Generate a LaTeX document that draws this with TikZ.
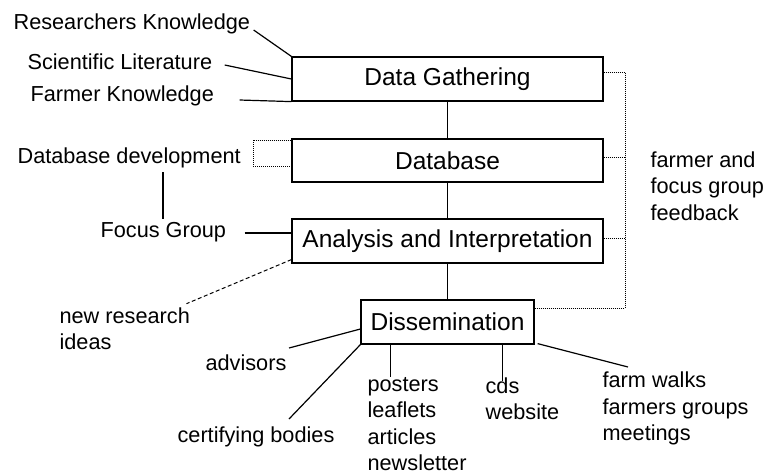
\documentclass[tikz,border=0pt]{standalone}
\usepackage{fontspec}
\setmainfont{Liberation Sans}
\usetikzlibrary{calc}

\begin{document}
\begin{tikzpicture}[x=1pt, y=-1pt, line width=1.2pt,
    stage/.style={draw, minimum width=311pt, minimum height=44pt, inner sep=0pt,
        font=\fontsize{24.5}{29}\selectfont},
    lbl/.style={anchor=west, inner sep=0pt, align=left,
        font=\fontsize{21.7}{26.5}\selectfont},
    fb/.style={densely dotted, line width=1pt}]
    \useasboundingbox (0,0) rectangle (766,475);

    % main stages
    \node[stage] (dg) at (447.5,79) {Data Gathering};
    \node[stage, minimum height=43pt] (db) at (447.5,160.5) {Database};
    \node[stage] (an) at (447.5,241) {Analysis and Interpretation};
    \node[stage, minimum width=173pt] (ds) at (447.5,322) {Dissemination};

    % inputs
    \node[lbl] (rk) at (13,24) {Researchers Knowledge};
    \node[lbl] (sl) at (27,62) {Scientific Literature};
    \node[lbl] (fk) at (30,96) {Farmer Knowledge};
    \node[lbl] (dd) at (17,158) {Database development};
    \node[lbl] (fg) at (100,232) {Focus Group};
    \node[lbl] (nr) at (59,328.5) {new research\\ideas};
    \node[lbl] (fd) at (650,186) {farmer and\\focus group\\feedback};

    % outputs
    \node[lbl] (adv) at (205,363) {advisors};
    \node[lbl] (cb) at (177,437) {certifying bodies};
    \node[lbl] (pl) at (367,424) {posters\\leaflets\\articles\\newsletter};
    \node[lbl] (cw) at (485,398.5) {cds\\website};
    \node[lbl] (fw) at (602,408.5) {farm walks\\farmers groups\\meetings};

    \draw (dg.south) -- (db.north);
    \draw (db.south) -- (an.north);
    \draw (an.south) -- (ds.north);

    \draw ($(rk.east)+(3,6)$) -- (dg.north west);
    \draw ($(sl.east)+(12,3)$) -- (dg.west);
    \draw ($(fk.east)+(25,4)$) -- (dg.south west);
    \draw[fb] ($(db.north west)+(0,2)$) -- ++(-38,0) -- ++(0,26) -- ++(38,0);
    \draw ($(dd.west)+(146,14)$) -- ($(fg.west)+(63,-13)$);
    \draw ($(fg.east)+(18,1)$) -- ($(an.west)+(0,-8)$);
    \draw[dash pattern=on 4pt off 2.5pt, line width=1pt] ($(an.south west)+(0,-4)$) -- ($(nr.north east)+(-4,-3)$);

    % feedback loop
    \coordinate (fbtop) at (625,72);
    \coordinate (fbbot) at (625,308);
    \draw[fb] ($(dg.east)+(0,-7)$) -- (fbtop) -- (fbbot) -- (fbbot -| ds.east);
    \draw[fb] ($(db.east)+(0,-3.5)$) -- ++(22,0);
    \draw[fb] ($(an.east)+(0,-3)$) -- ++(22,0);

    \draw ($(adv.east)+(2,-15)$) -- ($(ds.west)+(0,7)$);
    \draw ($(cb.west)+(112,-18)$) -- (ds.south west);
    \draw ($(ds.south west)+(30,0)$) -- ++(0,32);
    \draw ($(ds.south east)+(-32,0)$) -- ++(0,36);
    \draw ($(ds.south east)+(3,-1)$) -- ($(fw.west)+(26,-41.5)$);
\end{tikzpicture}
\end{document}
